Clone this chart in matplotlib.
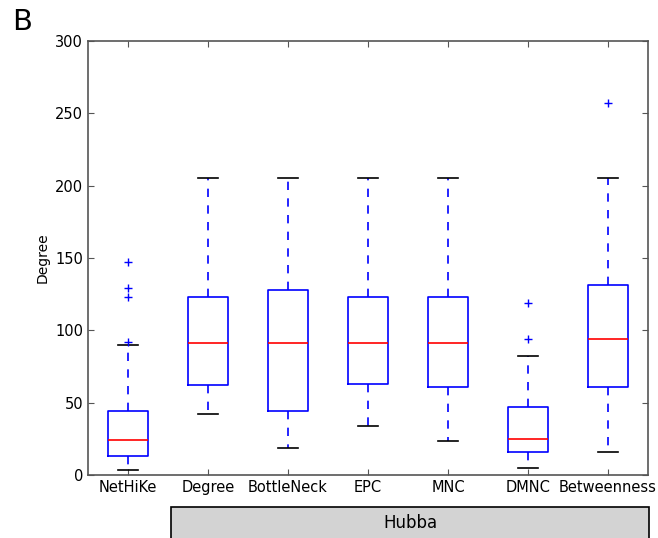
import matplotlib
matplotlib.use("Agg")
import matplotlib.pyplot as plt
from matplotlib.patches import Rectangle

methods = ["NetHiKe", "Degree", "BottleNeck", "EPC", "MNC", "DMNC", "Betweenness"]
low_whisker = [3.5, 42, 19, 34, 23.5, 5, 16]
q1 = [13, 62, 44, 63, 61, 16, 61]
median = [24, 91, 91, 91, 91, 25, 94]
q3 = [44, 123, 128, 123, 123, 47, 131]
high_whisker = [90, 205, 205, 205, 205, 82, 205]
outliers = [[92, 123, 129, 147], [], [], [], [], [94, 119], [257]]

stats = []
for i, name in enumerate(methods):
    stats.append({"label": name, "whislo": low_whisker[i], "q1": q1[i], "med": median[i],
                  "q3": q3[i], "whishi": high_whisker[i], "fliers": outliers[i]})

fig = plt.figure(figsize=(6.58, 5.38), dpi=100)
ax = fig.add_axes([0.1337, 0.1171, 0.8511, 0.8067])

ax.bxp(stats, widths=0.5, showfliers=True,
       boxprops=dict(color="blue", linewidth=1.2),
       medianprops=dict(color="red", linewidth=1.2),
       whiskerprops=dict(color="blue", linestyle=(0, (5, 5)), linewidth=1.2),
       capprops=dict(color="black", linewidth=1.2),
       flierprops=dict(marker="+", markeredgecolor="blue", markersize=6,
                       markeredgewidth=1.0, linestyle="none"))

ax.set_ylim(0, 300)
ax.set_xlim(0.5, 7.5)
ax.set_ylabel("Degree", fontsize=10)
ax.tick_params(direction="in", top=True, right=True, labelsize=10.5, length=4, color="#555555")
for s in ax.spines.values():
    s.set_color("#555555")
    s.set_linewidth(1.2)

fig.text(0.018, 0.985, "B", fontsize=21, ha="left", va="top")

fig.patches.append(Rectangle((171 / 658, -0.02), 478 / 658, (538 - 507) / 538 + 0.02,
                             transform=fig.transFigure, facecolor="#d3d3d3",
                             edgecolor="black", linewidth=1.2))
fig.text(410 / 658, (538 - 523) / 538, "Hubba", fontsize=12, ha="center", va="center")

fig.savefig("out.png", dpi=100)
